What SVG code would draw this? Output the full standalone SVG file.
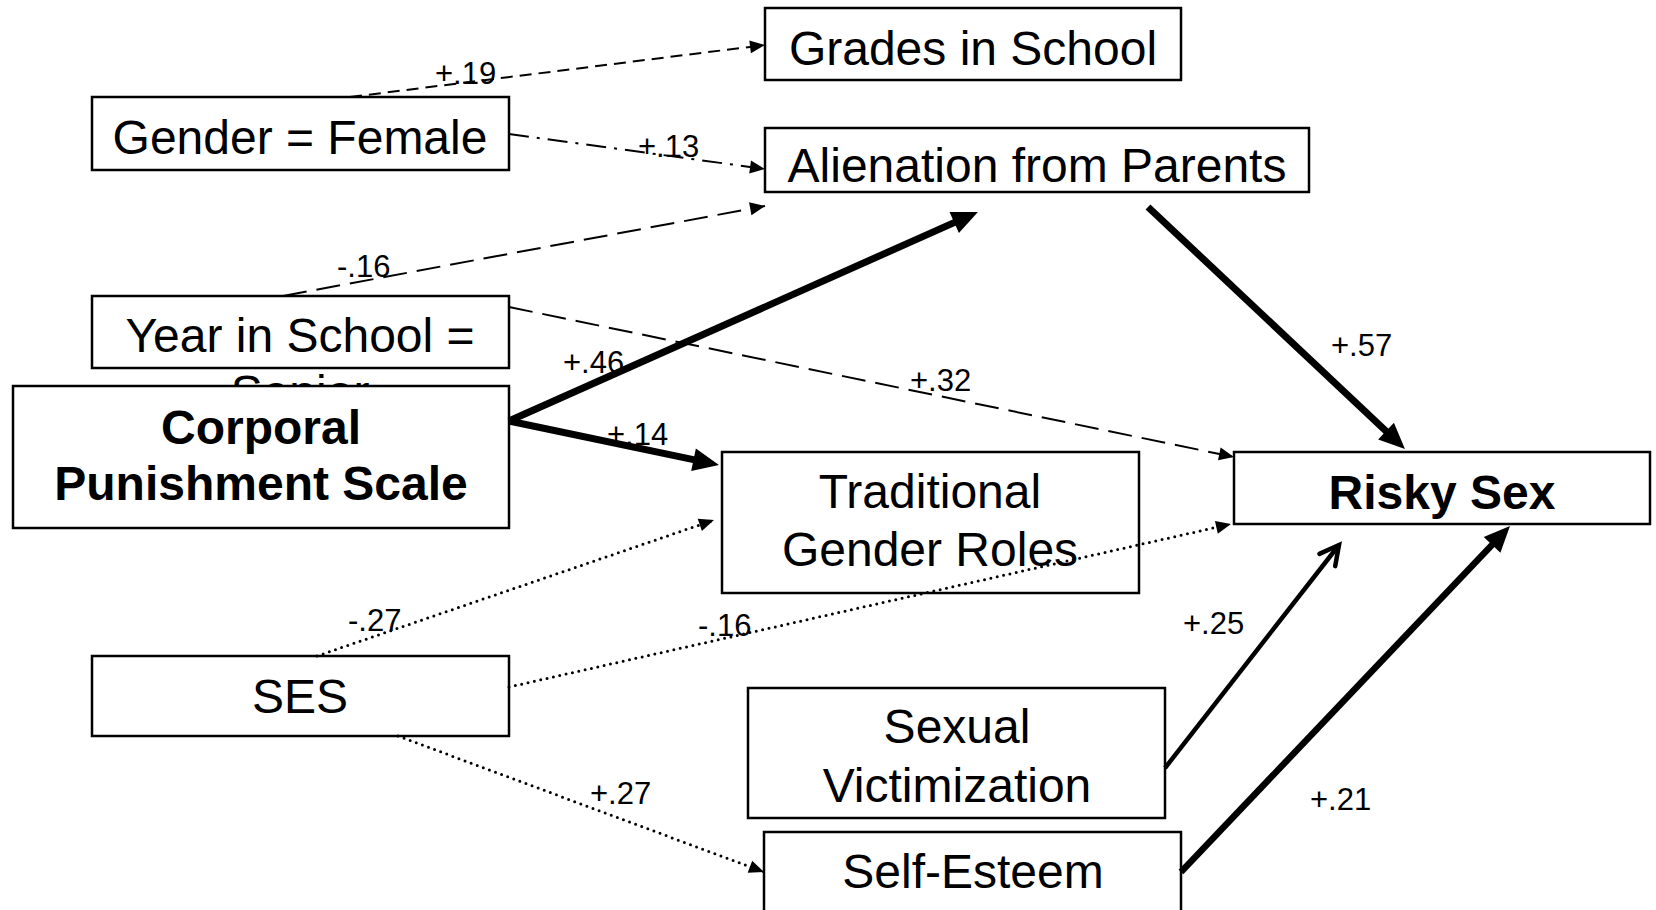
<svg xmlns="http://www.w3.org/2000/svg" width="1656" height="910" viewBox="0 0 1656 910">
<style>
.box{fill:#fff;stroke:#000;stroke-width:2.5}
.t{font-family:"Liberation Sans",Arial,sans-serif;font-size:48px;fill:#000;text-anchor:middle}
.b{font-weight:bold;font-size:48px}
.lbl{font-family:"Liberation Sans",Arial,sans-serif;font-size:31px;fill:#000}
.thin{fill:none;stroke:#000;stroke-width:2}
.dash1{stroke-dasharray:12 7}
.dashdot{stroke-dasharray:20 8 3 8}
.dash2{stroke-dasharray:24 10}
.dot{fill:none;stroke:#000;stroke-width:3;stroke-linecap:round;stroke-dasharray:0 6.5}
.thick{fill:none;stroke:#000;stroke-width:7}
</style>
<defs>
<marker id="sa" markerUnits="userSpaceOnUse" markerWidth="16" markerHeight="14" refX="15" refY="6.5" orient="auto" overflow="visible">
<path d="M0,0 L15,6.5 L0,13 z" fill="#000"/>
</marker>
<marker id="ba" markerUnits="userSpaceOnUse" markerWidth="28" markerHeight="24" refX="6" refY="11.5" orient="auto" overflow="visible">
<path d="M0,0 L26,11.5 L0,23 z" fill="#000"/>
</marker>
<marker id="oa" markerUnits="userSpaceOnUse" markerWidth="26" markerHeight="26" refX="22" refY="12" orient="auto" overflow="visible">
<path d="M3,2 L22,12 L3,22" fill="none" stroke="#000" stroke-width="4.5" stroke-linecap="round" stroke-linejoin="miter"/>
</marker>
<clipPath id="yearclip"><rect x="0" y="0" width="1656" height="386"/></clipPath>
</defs>

<g id="node-grades">
<rect class="box" x="765" y="8" width="416" height="72"/>
<text class="t" x="973" y="65">Grades in School</text>
</g>
<g id="node-gender">
<rect class="box" x="92" y="97" width="417" height="73"/>
<text class="t" x="300" y="154">Gender = Female</text>
</g>
<g id="node-alienation">
<rect class="box" x="765" y="128" width="544" height="64"/>
<text class="t" x="1037" y="182">Alienation from Parents</text>
</g>
<g id="node-year">
<rect class="box" x="92" y="296" width="417" height="72"/>
<text class="t" x="300" y="352">Year in School =</text>
<text class="t" x="300" y="409" clip-path="url(#yearclip)">Senior</text>
</g>
<g id="node-corporal">
<rect class="box" x="13" y="386" width="496" height="142"/>
<text class="t b" x="261" y="444">Corporal</text>
<text class="t b" x="261" y="500">Punishment Scale</text>
</g>
<g id="node-traditional">
<rect class="box" x="722" y="452" width="417" height="141"/>
<text class="t" x="930" y="508">Traditional</text>
<text class="t" x="930" y="566">Gender Roles</text>
</g>
<g id="node-risky">
<rect class="box" x="1234" y="452" width="416" height="72"/>
<text class="t b" x="1442" y="509">Risky Sex</text>
</g>
<g id="node-ses">
<rect class="box" x="92" y="656" width="417" height="80"/>
<text class="t" x="300" y="713">SES</text>
</g>
<g id="node-victimization">
<rect class="box" x="748" y="688" width="417" height="130"/>
<text class="t" x="957" y="743">Sexual</text>
<text class="t" x="957" y="802">Victimization</text>
</g>
<g id="node-selfesteem">
<rect class="box" x="764" y="832" width="417" height="110"/>
<text class="t" x="973" y="888">Self-Esteem</text>
</g>

<g id="connectors">
<path class="thin dash1" d="M350,97 L765,45" marker-end="url(#sa)"/>
<path class="thin dashdot" d="M509,134 L765,169" marker-end="url(#sa)"/>
<path class="thin dash2" d="M283,296 L765,206" marker-end="url(#sa)"/>
<path class="thin dash2" d="M509,307 L1234,457" marker-end="url(#sa)"/>
<path class="thick" d="M509,421 L959.7,220.1" marker-end="url(#ba)"/>
<path class="thick" d="M509,421 L699.4,460.9" marker-end="url(#ba)"/>
<path class="thick" d="M1148,207 L1390.4,435.3" marker-end="url(#ba)"/>
<path class="dot" d="M317,656 L714,520" marker-end="url(#sa)"/>
<path class="dot" d="M509,687 L1231,524" marker-end="url(#sa)"/>
<path class="dot" d="M398,736 L764,872" marker-end="url(#sa)"/>
<path fill="none" stroke="#000" stroke-width="4.5" d="M1165,768 L1339,545" marker-end="url(#oa)"/>
<path fill="none" stroke="#000" stroke-width="6.5" d="M1181,872 L1496.2,540.5" marker-end="url(#ba)"/>
</g>

<g id="labels">
<text class="lbl" x="435" y="84">+.19</text>
<text class="lbl" x="638" y="157">+.13</text>
<text class="lbl" x="337" y="277">-.16</text>
<text class="lbl" x="563" y="373">+.46</text>
<text class="lbl" x="910" y="391">+.32</text>
<text class="lbl" x="607" y="445">+.14</text>
<text class="lbl" x="1331" y="356">+.57</text>
<text class="lbl" x="348" y="631">-.27</text>
<text class="lbl" x="698" y="636">-.16</text>
<text class="lbl" x="1183" y="634">+.25</text>
<text class="lbl" x="590" y="804">+.27</text>
<text class="lbl" x="1310" y="810">+.21</text>
</g>
</svg>
